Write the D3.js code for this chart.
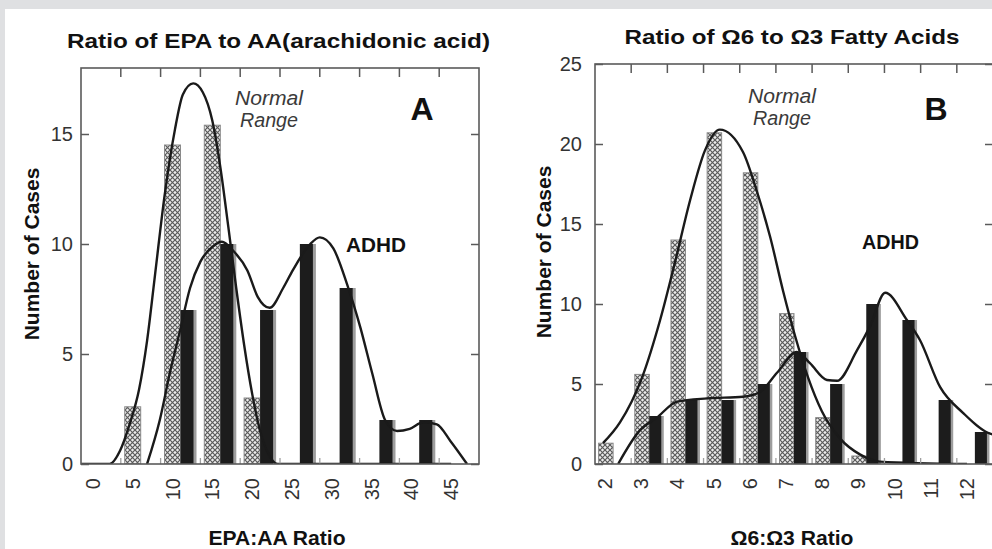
<!DOCTYPE html>
<html><head><meta charset="utf-8">
<script src="https://cdn.jsdelivr.net/npm/d3@7"></script>
<style>body{margin:0;background:#fff}svg{display:block}</style>
</head><body>
<svg id="c" width="992" height="549"></svg>
<script>
// ---------- Panel A data ----------
const ratioA = [0,5,10,15,20,25,30,35,40,45];
const normalA = [0,2.6,14.5,15.4,3,0,0,0,0,0];
const adhdA   = [0,0,7,10,7,10,8,2,2,0];
const normalCurveAx = [-2.5,1.1,2.4,3.6,4.8,5.8,6.8,8.0,9.3,10.3,11.6,12.8,14.0,15.0,16.0,17.0,18.0,19.0,20.0,21.0,22.2,44];
const normalCurveAy = [0,0,0.6,1.8,3.4,5.6,8.6,12.2,15.2,16.8,17.3,16.9,15.6,13.5,10.8,8.0,5.4,3.2,1.5,0.5,0,0];
const adhdCurveAx = [5.8,7.4,8.7,9.9,11.2,12.5,14.1,15.2,16.6,18.4,19.7,21.2,22.9,24.1,26.3,27.5,29.2,30.9,32.6,34.1,35.7,37.2,38.8,40.5,42.2,43.9,46.0];
const adhdCurveAy = [0,2.0,4.2,6.0,8.0,9.2,9.9,10.1,9.7,8.8,7.6,7.1,8.0,8.8,10.0,10.3,9.8,8.2,6.2,4.1,2.0,1.5,1.6,1.9,1.8,1.05,0];
const yTicksA = [0,5,10,15];

// ---------- Panel B data ----------
const ratioB = [2,3,4,5,6,7,8,9,10,11,12];
const normalB = [1.3,5.6,14,20.7,18.2,9.4,2.9,0.5,0,0,0];
const adhdB   = [0,3,4,4,5,7,5,10,9,4,2];
const normalCurveBx = [1.72,2.19,2.80,3.30,3.71,4.13,4.54,4.95,5.59,5.98,6.34,6.70,7.03,7.39,7.77,8.27,8.82,9.37,11.78];
const normalCurveBy = [1.3,2.6,5.4,9.0,12.6,16.5,19.6,20.9,19.5,17.0,14.2,10.8,8.0,5.4,3.3,1.6,0.6,0.15,0];
const adhdCurveBx = [2.14,2.74,3.21,3.77,4.60,5.59,6.06,6.53,7.08,7.44,7.91,8.19,8.74,9.10,9.52,10.12,10.48,11.04,11.67,12.42,12.5];
const adhdCurveBy = [0,2.1,2.9,3.9,4.1,4.2,4.5,5.7,7.0,6.3,5.25,5.2,7.1,8.6,10.7,9.0,7.75,4.8,3.2,1.9,1.85];
const yTicksB = [0,5,10,15,20,25];

const svg = d3.select("#c");
const FONT = "'Liberation Sans', Arial, sans-serif";

svg.append("rect").attr("width",992).attr("height",549).attr("fill","#fff");
svg.append("rect").attr("x",0).attr("y",0).attr("width",992).attr("height",9).attr("fill","#dfe0e2");
svg.append("rect").attr("x",0).attr("y",0).attr("width",5).attr("height",549).attr("fill","#dfe0e2");

const defs = svg.append("defs");
const pat = defs.append("pattern").attr("id","hatch").attr("patternUnits","userSpaceOnUse")
  .attr("width",5).attr("height",5);
pat.append("rect").attr("width",5).attr("height",5).attr("fill","#ececec");
pat.append("path").attr("d","M-1,-1 L6,6 M6,-1 L-1,6").attr("stroke","#5a5a5a").attr("stroke-width",1.2);

function panel(cfg){
  const g = svg.append("g");
  const x = d3.scaleBand().domain(cfg.cats).range([cfg.left,cfg.right]).padding(0);
  const bw = x.bandwidth();
  const xl = d3.scaleLinear()
    .domain([cfg.cats[0]-cfg.step/2, cfg.cats[cfg.cats.length-1]+cfg.step/2])
    .range([cfg.left,cfg.right]);
  const y = d3.scaleLinear().domain([0,cfg.ymax]).range([cfg.bottom,cfg.top]);
  const clipId = "clip"+cfg.id;
  defs.append("clipPath").attr("id",clipId).append("rect")
    .attr("x",cfg.left).attr("y",cfg.top).attr("width",cfg.right-cfg.left).attr("height",cfg.bottom-cfg.top);

  const plot = g.append("g").attr("clip-path",`url(#${clipId})`);
  plot.selectAll("rect.n").data(cfg.cats.map((c,i)=>({c,v:cfg.normal[i]})).filter(d=>d.v>0))
    .join("rect").attr("class","n")
    .attr("x",d=>x(d.c)+bw/2-cfg.barW).attr("width",cfg.barW)
    .attr("y",d=>y(d.v)).attr("height",d=>y(0)-y(d.v))
    .attr("fill","url(#hatch)").attr("stroke","#8a8a8a").attr("stroke-width",1);
  const ad = cfg.cats.map((c,i)=>({c,v:cfg.adhd[i]})).filter(d=>d.v>0);
  plot.selectAll("rect.ag").data(ad).join("rect").attr("class","ag")
    .attr("x",d=>x(d.c)+bw/2).attr("width",cfg.barW)
    .attr("y",d=>y(d.v)).attr("height",d=>y(0)-y(d.v)).attr("fill","#9d9d9d");
  plot.selectAll("rect.a").data(ad).join("rect").attr("class","a")
    .attr("x",d=>x(d.c)+bw/2).attr("width",cfg.blackW)
    .attr("y",d=>y(d.v)).attr("height",d=>y(0)-y(d.v)).attr("fill","#1c1c1c");

  const line = d3.line().x(d=>xl(d[0])).y(d=>y(d[1])).curve(d3.curveMonotoneX);
  const nPts = cfg.nx.map((v,i)=>[v,cfg.ny[i]]);
  const aPts = cfg.ax.map((v,i)=>[v,cfg.ay[i]]);
  plot.append("path").attr("d",line(nPts)).attr("fill","none").attr("stroke","#1a1a1a").attr("stroke-width",2.4);
  plot.append("path").attr("d",line(aPts)).attr("fill","none").attr("stroke","#1a1a1a").attr("stroke-width",2.4);

  const bounds = cfg.cats.slice(1).map(c=>x(c));
  g.selectAll("line.bt").data(bounds).join("line")
    .attr("x1",d=>d).attr("x2",d=>d).attr("y1",cfg.bottom).attr("y2",cfg.bottom-6)
    .attr("stroke","#a0a0a0").attr("stroke-width",1.3);

  g.append("rect").attr("x",cfg.left).attr("y",cfg.top).attr("width",cfg.right-cfg.left)
    .attr("height",cfg.bottom-cfg.top).attr("fill","none").attr("stroke","#5a5a5a").attr("stroke-width",1.6);

  const axL = g.append("g").attr("transform",`translate(${cfg.left},0)`)
    .call(d3.axisLeft(y).tickValues(cfg.yticks).tickSize(-8).tickSizeOuter(0).tickPadding(cfg.ypad));
  const axR = g.append("g").attr("transform",`translate(${cfg.right},0)`)
    .call(d3.axisRight(y).tickValues(cfg.yticks).tickSize(-8).tickSizeOuter(0).tickFormat(""));
  const axT = g.append("g").attr("transform",`translate(0,${cfg.top})`)
    .call(d3.axisTop(x).tickValues(cfg.cats.slice(1)).tickSize(-9).tickSizeOuter(0).tickFormat(""));
  axT.selectAll(".tick").attr("transform",d=>`translate(${x(d)},0)`);
  const axB = g.append("g").attr("transform",`translate(0,${cfg.bottom})`)
    .call(d3.axisBottom(x).tickSize(0).tickSizeOuter(0).tickPadding(0));
  [axL,axR,axT,axB].forEach(a=>{
    a.select(".domain").remove();
    a.selectAll(".tick line").attr("stroke","#5a5a5a").attr("stroke-width",1.5);
  });
  axL.selectAll("text").attr("font-family",FONT).attr("font-size",20).attr("fill","#333");
  axB.selectAll("text").attr("font-family",FONT).attr("font-size",20).attr("fill","#333")
    .attr("transform","rotate(-90)").attr("text-anchor","end")
    .attr("x",-14).attr("y",-8).attr("dy","0.35em");

  const t = (txt,xx,yy,o)=>{
    const e = g.append("text").attr("x",xx).attr("y",yy).text(txt)
      .attr("font-family",FONT).attr("font-size",o.size).attr("fill",o.fill||"#111")
      .attr("font-weight",o.bold?"bold":"normal").attr("font-style",o.italic?"italic":"normal")
      .attr("text-anchor",o.anchor||"middle");
    if(o.len) e.attr("textLength",o.len).attr("lengthAdjust","spacingAndGlyphs");
    if(o.rot) e.attr("transform",`rotate(-90,${xx},${yy})`);
    return e;
  };
  t(cfg.title, cfg.titleX, cfg.titleY, {size:21,bold:true,len:cfg.titleLen});
  t("Number of Cases", cfg.ylabX, cfg.ylabY, {size:21,bold:true,rot:true});
  t(cfg.xlab, cfg.xlabX, 545, {size:21,bold:true,len:cfg.xlabLen});
  t("Normal", cfg.normX, cfg.normY, {size:20,italic:true,fill:"#3a3a3a",len:68});
  t("Range", cfg.normX, cfg.normY+22, {size:20,italic:true,fill:"#3a3a3a",len:58});
  t(cfg.letter, cfg.letX, 120, {size:32,bold:true});
  t("ADHD", cfg.adX, cfg.adY, {size:21,bold:true,anchor:"start",len:cfg.adLen});
}

panel({id:"A", cats:ratioA, step:5, normal:normalA, adhd:adhdA,
  nx:normalCurveAx, ny:normalCurveAy, ax:adhdCurveAx, ay:adhdCurveAy,
  left:81,right:479,top:68,bottom:464,ymax:18,yticks:yTicksA,ypad:8,barW:16,blackW:13,
  title:"Ratio of EPA to AA(arachidonic acid)", titleX:278.5, titleY:48, titleLen:423,
  ylabX:39, ylabY:254, xlab:"EPA:AA Ratio", xlabX:277, xlabLen:137,
  normX:269, normY:105, letter:"A", letX:422, adX:346, adY:252, adLen:60});

panel({id:"B", cats:ratioB, step:1, normal:normalB, adhd:adhdB,
  nx:normalCurveBx, ny:normalCurveBy, ax:adhdCurveBx, ay:adhdCurveBy,
  left:595,right:993,top:64,bottom:464,ymax:25,yticks:yTicksB,ypad:13,barW:14.5,blackW:12,
  title:"Ratio of \u03A96 to \u03A93 Fatty Acids", titleX:792, titleY:44, titleLen:335,
  ylabX:551, ylabY:252, xlab:"\u03A96:\u03A93 Ratio", xlabX:792, xlabLen:123,
  normX:782, normY:103, letter:"B", letX:936, adX:862, adY:249, adLen:57});
</script>
</body></html>
